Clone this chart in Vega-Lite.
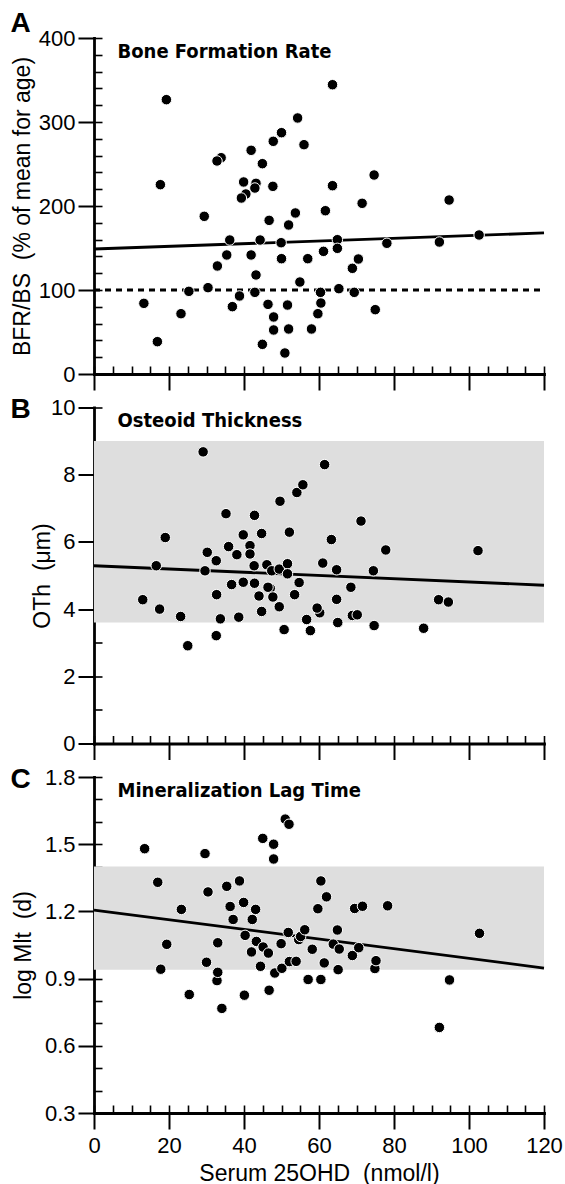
{
  "$schema": "https://vega.github.io/schema/vega-lite/v6.json",
  "background": "white",
  "padding": {"left": 10, "top": 9, "right": 5, "bottom": 5},
  "bounds": "flush",
  "spacing": 33.5,
  "config": {
    "view": {"stroke": null},
    "axis": {
      "domainColor": "black", "domainWidth": 2.8, "domainCap": "square",
      "tickColor": "black", "tickWidth": 2,
      "labelColor": "black", "titleColor": "black",
      "labelFont": "Liberation Sans", "titleFont": "Liberation Sans",
      "labelFontSize": 22, "titleFontSize": 23, "titleFontWeight": "normal",
      "grid": false, "zindex": 1
    }
  },
  "datasets": {
    "ptsA": [
      {"x": 13.3, "y": 84.1}, {"x": 16.9, "y": 38.5}, {"x": 17.7, "y": 225.4}, {"x": 19.3, "y": 326.6},
      {"x": 23.2, "y": 71.8}, {"x": 25.3, "y": 98.4}, {"x": 29.4, "y": 187.7}, {"x": 30.4, "y": 102.8},
      {"x": 33.9, "y": 257.5}, {"x": 32.8, "y": 253.6}, {"x": 32.9, "y": 128.6}, {"x": 35.4, "y": 141.7},
      {"x": 36.2, "y": 159.5}, {"x": 36.9, "y": 80.2}, {"x": 38.8, "y": 92.9}, {"x": 40.5, "y": 214.3},
      {"x": 39.3, "y": 209.5}, {"x": 39.9, "y": 228.6}, {"x": 41.9, "y": 266.3}, {"x": 41.9, "y": 141.7},
      {"x": 43.2, "y": 227.0}, {"x": 42.9, "y": 221.4}, {"x": 43.2, "y": 117.9}, {"x": 42.9, "y": 97.2},
      {"x": 44.3, "y": 159.5}, {"x": 44.9, "y": 250.4}, {"x": 44.9, "y": 35.3}, {"x": 46.4, "y": 82.9},
      {"x": 46.7, "y": 182.9}, {"x": 47.7, "y": 223.4}, {"x": 47.8, "y": 277.0}, {"x": 47.9, "y": 67.9},
      {"x": 47.9, "y": 52.4}, {"x": 49.9, "y": 156.3}, {"x": 50.0, "y": 287.3}, {"x": 50.0, "y": 137.3},
      {"x": 50.9, "y": 25.0}, {"x": 51.6, "y": 82.1}, {"x": 51.9, "y": 177.4}, {"x": 51.9, "y": 53.6},
      {"x": 53.7, "y": 191.7}, {"x": 54.3, "y": 304.8}, {"x": 54.9, "y": 109.5}, {"x": 56.0, "y": 273.0},
      {"x": 57.0, "y": 137.3}, {"x": 58.0, "y": 53.6}, {"x": 59.7, "y": 71.8}, {"x": 60.4, "y": 97.2},
      {"x": 60.5, "y": 84.5}, {"x": 61.2, "y": 146.0}, {"x": 61.7, "y": 194.4}, {"x": 63.6, "y": 344.4},
      {"x": 63.6, "y": 224.2}, {"x": 64.9, "y": 159.9}, {"x": 64.9, "y": 149.6}, {"x": 65.3, "y": 101.6},
      {"x": 68.9, "y": 125.8}, {"x": 69.4, "y": 97.2}, {"x": 70.5, "y": 136.9}, {"x": 71.5, "y": 203.2},
      {"x": 74.7, "y": 236.9}, {"x": 75.0, "y": 76.6}, {"x": 78.1, "y": 155.6}, {"x": 92.1, "y": 157.1},
      {"x": 94.7, "y": 207.1}, {"x": 102.7, "y": 165.5}
    ],
    "ptsB": [
      {"x": 13.0, "y": 4.28}, {"x": 16.6, "y": 5.29}, {"x": 17.5, "y": 4.0}, {"x": 19.0, "y": 6.13},
      {"x": 23.1, "y": 3.78}, {"x": 25.0, "y": 2.91}, {"x": 29.1, "y": 8.68}, {"x": 29.6, "y": 5.14},
      {"x": 30.2, "y": 5.69}, {"x": 32.6, "y": 5.44}, {"x": 32.7, "y": 4.43}, {"x": 32.6, "y": 3.21},
      {"x": 33.7, "y": 3.71}, {"x": 35.2, "y": 6.84}, {"x": 35.9, "y": 5.86}, {"x": 36.7, "y": 4.73},
      {"x": 38.1, "y": 5.62}, {"x": 38.6, "y": 3.76}, {"x": 39.8, "y": 6.21}, {"x": 39.8, "y": 4.8},
      {"x": 41.6, "y": 5.89}, {"x": 41.6, "y": 5.64}, {"x": 42.7, "y": 5.29}, {"x": 42.8, "y": 6.79},
      {"x": 42.8, "y": 4.77}, {"x": 44.0, "y": 4.39}, {"x": 44.7, "y": 6.25}, {"x": 44.7, "y": 3.93},
      {"x": 46.1, "y": 5.32}, {"x": 47.0, "y": 4.62}, {"x": 46.4, "y": 4.65}, {"x": 47.4, "y": 5.14},
      {"x": 47.7, "y": 4.36}, {"x": 49.4, "y": 4.07}, {"x": 49.6, "y": 7.21}, {"x": 49.4, "y": 5.19},
      {"x": 50.7, "y": 3.39}, {"x": 51.6, "y": 5.35}, {"x": 51.6, "y": 5.05}, {"x": 52.1, "y": 6.29},
      {"x": 53.5, "y": 4.43}, {"x": 54.1, "y": 7.47}, {"x": 54.7, "y": 4.79}, {"x": 55.7, "y": 7.7},
      {"x": 56.7, "y": 3.69}, {"x": 57.7, "y": 3.36}, {"x": 60.2, "y": 3.89}, {"x": 59.5, "y": 4.03},
      {"x": 61.0, "y": 5.37}, {"x": 61.5, "y": 8.3}, {"x": 63.3, "y": 6.07}, {"x": 64.7, "y": 5.17},
      {"x": 64.7, "y": 4.29}, {"x": 65.0, "y": 3.6}, {"x": 68.5, "y": 4.65}, {"x": 68.9, "y": 3.81},
      {"x": 70.2, "y": 3.83}, {"x": 71.2, "y": 6.62}, {"x": 74.5, "y": 5.14}, {"x": 74.7, "y": 3.51},
      {"x": 77.8, "y": 5.76}, {"x": 87.9, "y": 3.43}, {"x": 91.9, "y": 4.28}, {"x": 94.5, "y": 4.21},
      {"x": 102.4, "y": 5.74}
    ],
    "ptsC": [
      {"x": 13.5, "y": 1.48}, {"x": 17.0, "y": 1.33}, {"x": 17.8, "y": 0.942}, {"x": 19.4, "y": 1.053},
      {"x": 23.3, "y": 1.209}, {"x": 25.4, "y": 0.829}, {"x": 29.6, "y": 1.458}, {"x": 30.0, "y": 0.973},
      {"x": 30.4, "y": 1.287}, {"x": 32.8, "y": 0.891}, {"x": 33.0, "y": 0.928}, {"x": 33.0, "y": 1.06},
      {"x": 34.1, "y": 0.767}, {"x": 35.4, "y": 1.312}, {"x": 36.3, "y": 1.222}, {"x": 37.1, "y": 1.164},
      {"x": 38.8, "y": 1.336}, {"x": 39.9, "y": 1.24}, {"x": 40.1, "y": 0.826}, {"x": 40.3, "y": 1.093},
      {"x": 42.0, "y": 1.019}, {"x": 42.2, "y": 1.164}, {"x": 43.1, "y": 1.209}, {"x": 43.3, "y": 1.066},
      {"x": 44.4, "y": 0.955}, {"x": 45.0, "y": 1.526}, {"x": 45.1, "y": 1.041}, {"x": 46.5, "y": 1.014},
      {"x": 46.7, "y": 0.848}, {"x": 47.9, "y": 1.5}, {"x": 47.9, "y": 1.434}, {"x": 48.2, "y": 0.925},
      {"x": 49.9, "y": 1.056}, {"x": 50.1, "y": 0.946}, {"x": 51.0, "y": 1.612}, {"x": 52.0, "y": 1.589},
      {"x": 51.8, "y": 1.106}, {"x": 52.1, "y": 0.976}, {"x": 53.9, "y": 0.977}, {"x": 54.6, "y": 1.074},
      {"x": 55.1, "y": 1.088}, {"x": 56.2, "y": 1.118}, {"x": 57.1, "y": 0.896}, {"x": 58.2, "y": 1.031},
      {"x": 59.7, "y": 1.212}, {"x": 60.5, "y": 1.336}, {"x": 60.5, "y": 0.896}, {"x": 61.4, "y": 0.97},
      {"x": 62.0, "y": 1.265}, {"x": 63.8, "y": 1.054}, {"x": 64.9, "y": 1.117}, {"x": 65.1, "y": 0.94},
      {"x": 65.4, "y": 1.032}, {"x": 68.9, "y": 1.003}, {"x": 69.5, "y": 1.213}, {"x": 70.6, "y": 1.038},
      {"x": 71.6, "y": 1.223}, {"x": 74.9, "y": 0.945}, {"x": 75.2, "y": 0.98}, {"x": 78.3, "y": 1.225},
      {"x": 92.1, "y": 0.682}, {"x": 94.8, "y": 0.894}, {"x": 102.8, "y": 1.102}
    ],
    "lineA": [{"x": 0, "y": 148.8}, {"x": 120, "y": 167.9}],
    "lineB": [{"x": 0, "y": 5.29}, {"x": 120, "y": 4.71}],
    "lineC": [{"x": 0, "y": 1.206}, {"x": 120, "y": 0.947}],
    "refA": [{"x": 0, "x2": 120, "y": 100}],
    "bandB": [{"x": 0, "x2": 120, "y": 3.6, "y2": 9}],
    "bandC": [{"x": 0, "x2": 120, "y": 0.94, "y2": 1.4}]
  },
  "vconcat": [
    {
      "width": 450, "height": 336,
      "resolve": {"axis": {"x": "independent", "y": "independent"}},
      "layer": [
        {
          "data": {"name": "refA"},
          "mark": {"type": "rule", "color": "black", "strokeWidth": 2.8, "strokeDash": [6, 5]},
          "encoding": {
            "x": {"field": "x", "type": "quantitative", "scale": {"domain": [0, 120], "nice": false, "zero": false}, "axis": null},
            "x2": {"field": "x2"},
            "y": {"field": "y", "type": "quantitative", "scale": {"domain": [0, 400], "nice": false, "zero": false}, "axis": null}
          }
        },
        {
          "data": {"name": "lineA"},
          "mark": {"type": "line", "color": "black", "strokeWidth": 2.8},
          "encoding": {
            "x": {"field": "x", "type": "quantitative", "scale": {"domain": [0, 120], "nice": false, "zero": false},
              "axis": {"orient": "bottom", "values": [0,5,10,15,20,25,30,35,40,45,50,55,60,65,70,75,80,85,90,95,100,105,110,115,120], "tickSize": -8, "tickWidth": 1.6, "labels": false, "domain": false,
                "title": "Bone Formation Rate", "titleX": 23, "titleY": -317, "titleAngle": 0, "titleAlign": "left", "titleBaseline": "alphabetic",
                "titleFont": "DejaVu Sans Condensed, sans-serif", "titleFontWeight": "bold", "titleFontSize": 20}},
            "y": {"field": "y", "type": "quantitative", "scale": {"domain": [0, 400], "nice": false, "zero": false},
              "axis": {"orient": "left", "values": [0,20,40,60,80,100,120,140,160,180,200,220,240,260,280,300,320,340,360,380,400], "tickSize": -8, "tickWidth": 1.6, "labels": false, "domain": false,
                "title": "A", "titleX": -84, "titleY": -7, "titleAngle": 0, "titleAlign": "left", "titleBaseline": "alphabetic", "titleFontWeight": "bold", "titleFontSize": 28}}
          }
        },
        {
          "data": {"name": "ptsA"},
          "mark": {"type": "circle", "size": 110, "color": "black", "opacity": 1, "stroke": "white", "strokeWidth": 1},
          "encoding": {
            "x": {"field": "x", "type": "quantitative", "scale": {"domain": [0, 120], "nice": false, "zero": false},
              "axis": {"orient": "bottom", "values": [0,20,40,60,80,100,120], "tickSize": 16, "labels": false, "title": null}},
            "y": {"field": "y", "type": "quantitative", "scale": {"domain": [0, 400], "nice": false, "zero": false},
              "axis": {"orient": "left", "values": [0,100,200,300,400], "tickSize": 16, "labelPadding": 3, "title": "BFR/BS\u00a0 (% of mean for age)", "titlePadding": 4}}
          }
        }
      ]
    },
    {
      "width": 450, "height": 336,
      "resolve": {"axis": {"x": "independent", "y": "independent"}},
      "layer": [
        {
          "data": {"name": "bandB"},
          "mark": {"type": "rect", "color": "#dedede"},
          "encoding": {
            "x": {"field": "x", "type": "quantitative", "scale": {"domain": [0, 120], "nice": false, "zero": false}, "axis": null},
            "x2": {"field": "x2"},
            "y": {"field": "y", "type": "quantitative", "scale": {"domain": [0, 10], "nice": false, "zero": false}, "axis": null},
            "y2": {"field": "y2"}
          }
        },
        {
          "data": {"name": "lineB"},
          "mark": {"type": "line", "color": "black", "strokeWidth": 2.8},
          "encoding": {
            "x": {"field": "x", "type": "quantitative", "scale": {"domain": [0, 120], "nice": false, "zero": false},
              "axis": {"orient": "bottom", "values": [0,5,10,15,20,25,30,35,40,45,50,55,60,65,70,75,80,85,90,95,100,105,110,115,120], "tickSize": -8, "tickWidth": 1.6, "labels": false, "domain": false,
                "title": "Osteoid Thickness", "titleX": 23, "titleY": -317, "titleAngle": 0, "titleAlign": "left", "titleBaseline": "alphabetic",
                "titleFont": "DejaVu Sans Condensed, sans-serif", "titleFontWeight": "bold", "titleFontSize": 20}},
            "y": {"field": "y", "type": "quantitative", "scale": {"domain": [0, 10], "nice": false, "zero": false},
              "axis": {"orient": "left", "values": [0,1,2,3,4,5,6,7,8,9,10], "tickSize": -8, "tickWidth": 1.6, "labels": false, "domain": false,
                "title": "B", "titleX": -84, "titleY": 10, "titleAngle": 0, "titleAlign": "left", "titleBaseline": "alphabetic", "titleFontWeight": "bold", "titleFontSize": 28}}
          }
        },
        {
          "data": {"name": "ptsB"},
          "mark": {"type": "circle", "size": 110, "color": "black", "opacity": 1, "stroke": "white", "strokeWidth": 1},
          "encoding": {
            "x": {"field": "x", "type": "quantitative", "scale": {"domain": [0, 120], "nice": false, "zero": false},
              "axis": {"orient": "bottom", "values": [0,20,40,60,80,100,120], "tickSize": 16, "labels": false, "title": null}},
            "y": {"field": "y", "type": "quantitative", "scale": {"domain": [0, 10], "nice": false, "zero": false},
              "axis": {"orient": "left", "values": [0,2,4,6,8,10], "tickSize": 16, "labelPadding": 3, "title": "OTh\u00a0 (μm)", "titlePadding": -4}}
          }
        }
      ]
    },
    {
      "width": 450, "height": 336,
      "resolve": {"axis": {"x": "independent", "y": "independent"}},
      "layer": [
        {
          "data": {"name": "bandC"},
          "mark": {"type": "rect", "color": "#dedede"},
          "encoding": {
            "x": {"field": "x", "type": "quantitative", "scale": {"domain": [0, 120], "nice": false, "zero": false}, "axis": null},
            "x2": {"field": "x2"},
            "y": {"field": "y", "type": "quantitative", "scale": {"domain": [0.3, 1.8], "nice": false, "zero": false}, "axis": null},
            "y2": {"field": "y2"}
          }
        },
        {
          "data": {"name": "lineC"},
          "mark": {"type": "line", "color": "black", "strokeWidth": 2.8},
          "encoding": {
            "x": {"field": "x", "type": "quantitative", "scale": {"domain": [0, 120], "nice": false, "zero": false},
              "axis": {"orient": "bottom", "values": [0,5,10,15,20,25,30,35,40,45,50,55,60,65,70,75,80,85,90,95,100,105,110,115,120], "tickSize": -8, "tickWidth": 1.6, "labels": false, "domain": false,
                "title": "Mineralization Lag Time", "titleX": 23, "titleY": -317, "titleAngle": 0, "titleAlign": "left", "titleBaseline": "alphabetic",
                "titleFont": "DejaVu Sans Condensed, sans-serif", "titleFontWeight": "bold", "titleFontSize": 20}},
            "y": {"field": "y", "type": "quantitative", "scale": {"domain": [0.3, 1.8], "nice": false, "zero": false},
              "axis": {"orient": "left", "values": [0.3,0.4,0.5,0.6,0.7,0.8,0.9,1.0,1.1,1.2,1.3,1.4,1.5,1.6,1.7,1.8], "tickSize": -8, "tickWidth": 1.6, "labels": false, "domain": false,
                "title": "C", "titleX": -84, "titleY": 10, "titleAngle": 0, "titleAlign": "left", "titleBaseline": "alphabetic", "titleFontWeight": "bold", "titleFontSize": 28}}
          }
        },
        {
          "data": {"name": "ptsC"},
          "mark": {"type": "circle", "size": 110, "color": "black", "opacity": 1, "stroke": "white", "strokeWidth": 1},
          "encoding": {
            "x": {"field": "x", "type": "quantitative", "scale": {"domain": [0, 120], "nice": false, "zero": false},
              "axis": {"orient": "bottom", "values": [0,20,40,60,80,100,120], "tickSize": 16, "labelPadding": 6, "labelFlush": false, "labelOverlap": false, "title": "Serum 25OHD\u00a0 (nmol/l)", "titlePadding": 6}},
            "y": {"field": "y", "type": "quantitative", "scale": {"domain": [0.3, 1.8], "nice": false, "zero": false},
              "axis": {"orient": "left", "values": [0.3,0.6,0.9,1.2,1.5,1.8], "format": ".1f", "tickSize": 16, "labelPadding": 3, "title": "log Mlt\u00a0 (d)", "titlePadding": 9}}
          }
        }
      ]
    }
  ]
}
